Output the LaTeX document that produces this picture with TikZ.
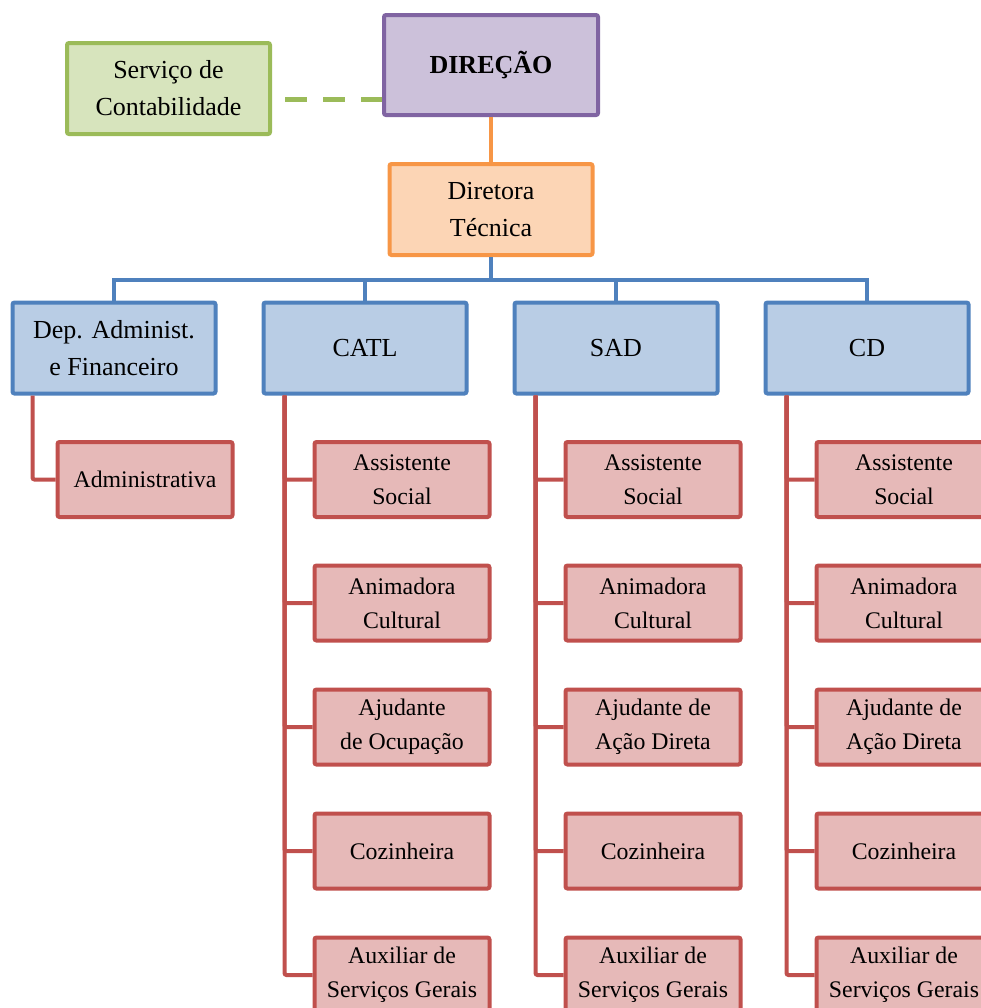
\documentclass[tikz,border=0pt]{standalone}
\usepackage{fontspec}
\setmainfont{Liberation Serif}

\definecolor{dirdraw}{HTML}{8064A2}
\definecolor{dirfill}{HTML}{CCC1DA}
\definecolor{contdraw}{HTML}{9BBB59}
\definecolor{contfill}{HTML}{D7E4BD}
\definecolor{tecdraw}{HTML}{F79646}
\definecolor{tecfill}{HTML}{FCD5B5}
\definecolor{depdraw}{HTML}{4F81BD}
\definecolor{depfill}{HTML}{B9CDE5}
\definecolor{staffdraw}{HTML}{C0504D}
\definecolor{stafffill}{HTML}{E6B9B8}

\begin{document}
\begin{tikzpicture}[x=0.5pt, y=-0.5pt,
    box/.style={draw, line width=2pt, rounded corners=1pt, align=center, inner sep=0pt},
    bigbox/.style={box, minimum width=101.5pt, minimum height=45.5pt,
        font=\fontsize{13}{18.5}\selectfont},
    staffbox/.style={box, draw=staffdraw, fill=stafffill, minimum width=87.5pt,
        minimum height=37.5pt, font=\fontsize{11.9}{17}\selectfont},
    depbox/.style={bigbox, draw=depdraw, fill=depfill},
    blueline/.style={draw=depdraw, line width=2pt},
    redline/.style={draw=staffdraw, line width=2pt, rounded corners=1pt}]
    \useasboundingbox (0,0) rectangle (981,1008);

    % Direction and accounting
    \node[bigbox, draw=dirdraw, fill=dirfill, minimum width=107pt, minimum height=50pt,
        font=\fontsize{13}{18.5}\selectfont\bfseries] (dir) at (491,65) {DIREÇÃO};
    \node[bigbox, draw=contdraw, fill=contfill] (cont) at (168.5,88.5) {Serviço de\\Contabilidade};
    \coordinate (dashstart) at ([xshift=6.5pt]cont.east);
    \coordinate (dashend) at ([yshift=-17pt]dir.west);
    \draw[contdraw, line width=2.5pt, dash pattern=on 11pt off 8pt]
        (dashstart |- dashend) -- (dashend);

    % Technical director
    \node[bigbox, draw=tecdraw, fill=tecfill] (tec) at (491,209.5) {Diretora\\Técnica};
    \draw[tecdraw, line width=2pt] (dir.south) -- (tec.north);

    % Departments
    \node[depbox] (dep) at (114,348) {Dep. Administ.\\e Financeiro};
    \node[depbox] (catl) at (365,348) {CATL};
    \node[depbox] (sad) at (616,348) {SAD};
    \node[depbox] (cd) at (867,348) {CD};

    \coordinate (bus) at ([yshift=-11.5pt]tec.south);
    \draw[blueline] (tec.south) -- (bus);
    \draw[blueline] (dep.north) |- (bus) -| (cd.north);
    \draw[blueline] (catl.north) -- (catl.north |- bus);
    \draw[blueline] (sad.north) -- (sad.north |- bus);

    % Dep. Administ. e Financeiro
    \node[staffbox] (adm) at (145,479.5) {Administrativa};
    \draw[redline] ([xshift=11pt]dep.south west) |- (adm.west);

    % CATL
    \node[staffbox] (catl1) at (402,479.5) {Assistente\\Social};
    \node[staffbox] (catl2) at (402,603) {Animadora\\Cultural};
    \node[staffbox] (catl3) at (402,727) {Ajudante\\de Ocupação};
    \node[staffbox] (catl4) at (402,851) {Cozinheira};
    \node[staffbox] (catl5) at (402,975) {Auxiliar de\\Serviços Gerais};
    \draw[redline] ([xshift=11.5pt]catl.south west) |- (catl1.west);
    \draw[redline] ([xshift=11.5pt]catl.south west) |- (catl2.west);
    \draw[redline] ([xshift=11.5pt]catl.south west) |- (catl3.west);
    \draw[redline] ([xshift=11.5pt]catl.south west) |- (catl4.west);
    \draw[redline] ([xshift=11.5pt]catl.south west) |- (catl5.west);

    % SAD
    \node[staffbox] (sad1) at (653,479.5) {Assistente\\Social};
    \node[staffbox] (sad2) at (653,603) {Animadora\\Cultural};
    \node[staffbox] (sad3) at (653,727) {Ajudante de\\Ação Direta};
    \node[staffbox] (sad4) at (653,851) {Cozinheira};
    \node[staffbox] (sad5) at (653,975) {Auxiliar de\\Serviços Gerais};
    \draw[redline] ([xshift=11.5pt]sad.south west) |- (sad1.west);
    \draw[redline] ([xshift=11.5pt]sad.south west) |- (sad2.west);
    \draw[redline] ([xshift=11.5pt]sad.south west) |- (sad3.west);
    \draw[redline] ([xshift=11.5pt]sad.south west) |- (sad4.west);
    \draw[redline] ([xshift=11.5pt]sad.south west) |- (sad5.west);

    % CD
    \node[staffbox] (cd1) at (904,479.5) {Assistente\\Social};
    \node[staffbox] (cd2) at (904,603) {Animadora\\Cultural};
    \node[staffbox] (cd3) at (904,727) {Ajudante de\\Ação Direta};
    \node[staffbox] (cd4) at (904,851) {Cozinheira};
    \node[staffbox] (cd5) at (904,975) {Auxiliar de\\Serviços Gerais};
    \draw[redline] ([xshift=11.5pt]cd.south west) |- (cd1.west);
    \draw[redline] ([xshift=11.5pt]cd.south west) |- (cd2.west);
    \draw[redline] ([xshift=11.5pt]cd.south west) |- (cd3.west);
    \draw[redline] ([xshift=11.5pt]cd.south west) |- (cd4.west);
    \draw[redline] ([xshift=11.5pt]cd.south west) |- (cd5.west);
\end{tikzpicture}
\end{document}
